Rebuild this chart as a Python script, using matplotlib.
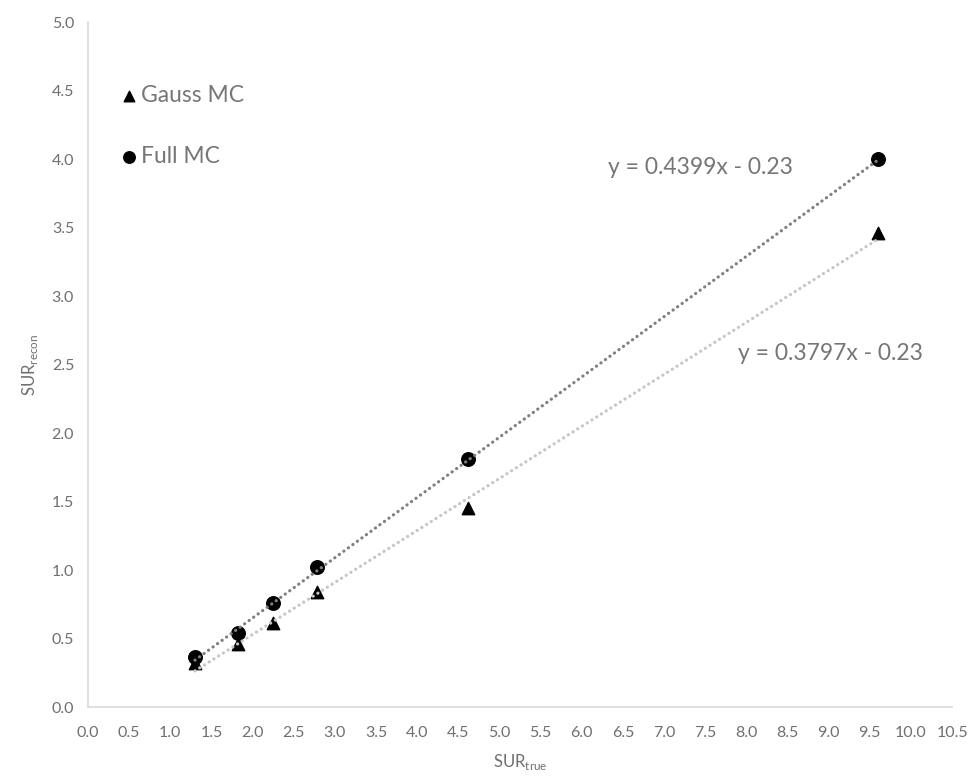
import matplotlib
matplotlib.use("Agg")
import matplotlib.pyplot as plt
import numpy as np

plt.rcParams['font.family'] = ['Lato', 'DejaVu Sans']

sur_true = [1.30, 1.82, 2.25, 2.78, 4.62, 9.60]
full_mc = [0.365, 0.54, 0.76, 1.02, 1.81, 4.00]
gauss_mc = [0.32, 0.46, 0.61, 0.84, 1.45, 3.46]

full_fit = (0.4399, -0.23)
gauss_fit = (0.3797, -0.23)

x_ticks = np.arange(0, 10.51, 0.5)
y_ticks = np.arange(0, 5.01, 0.5)

fig = plt.figure(figsize=(9.68, 7.76), dpi=100)
ax = fig.add_axes([0.0909, 0.0889, 0.8926, 0.8827])

xs = np.array([min(sur_true), max(sur_true)])
ax.plot(xs, full_fit[0] * xs + full_fit[1], color='#7f7f7f', lw=2.3,
        linestyle=(0, (0.05, 1.7)), dash_capstyle='round', zorder=3)
ax.plot(xs, gauss_fit[0] * xs + gauss_fit[1], color='#c6c6c6', lw=2.3,
        linestyle=(0, (0.05, 1.7)), dash_capstyle='round', zorder=3)

ax.scatter(sur_true, gauss_mc, marker='^', s=80, color='black', label='Gauss MC', zorder=2)
ax.scatter(sur_true, full_mc, marker='o', s=95, color='black', label='Full MC', zorder=2)

ax.text(6.32, 3.94, 'y = 0.4399x - 0.23', fontsize=16.5, color='#767676', va='center')
ax.text(7.90, 2.58, 'y = 0.3797x - 0.23', fontsize=16.5, color='#767676', va='center')

ax.set_xlim(0, 10.5)
ax.set_ylim(0, 5.0)
ax.set_xticks(x_ticks)
ax.set_yticks(y_ticks)
ax.set_xticklabels([f'{v:.1f}' for v in x_ticks])
ax.set_yticklabels([f'{v:.1f}' for v in y_ticks])
ax.tick_params(length=0, labelsize=11.5, labelcolor='#6f6f6f', pad=14)
ax.tick_params(axis='y', pad=10)
for s in ['top', 'right']:
    ax.spines[s].set_visible(False)
for s in ['left', 'bottom']:
    ax.spines[s].set_color('#d9d9d9')
    ax.spines[s].set_linewidth(1.2)

ax.set_xlabel('SUR$_{\\mathregular{true}}$', fontsize=12, color='#6f6f6f', labelpad=8)
ax.set_ylabel('SUR$_{\\mathregular{recon}}$', fontsize=12, color='#6f6f6f', labelpad=8)

leg = ax.legend(loc='upper left', bbox_to_anchor=(0.024, 0.922), frameon=False,
                fontsize=16.5, labelcolor='#767676', labelspacing=1.75,
                handletextpad=0.0, handlelength=1.0, borderaxespad=0,
                markerscale=0.85)

fig.savefig('out.png', dpi=100)
